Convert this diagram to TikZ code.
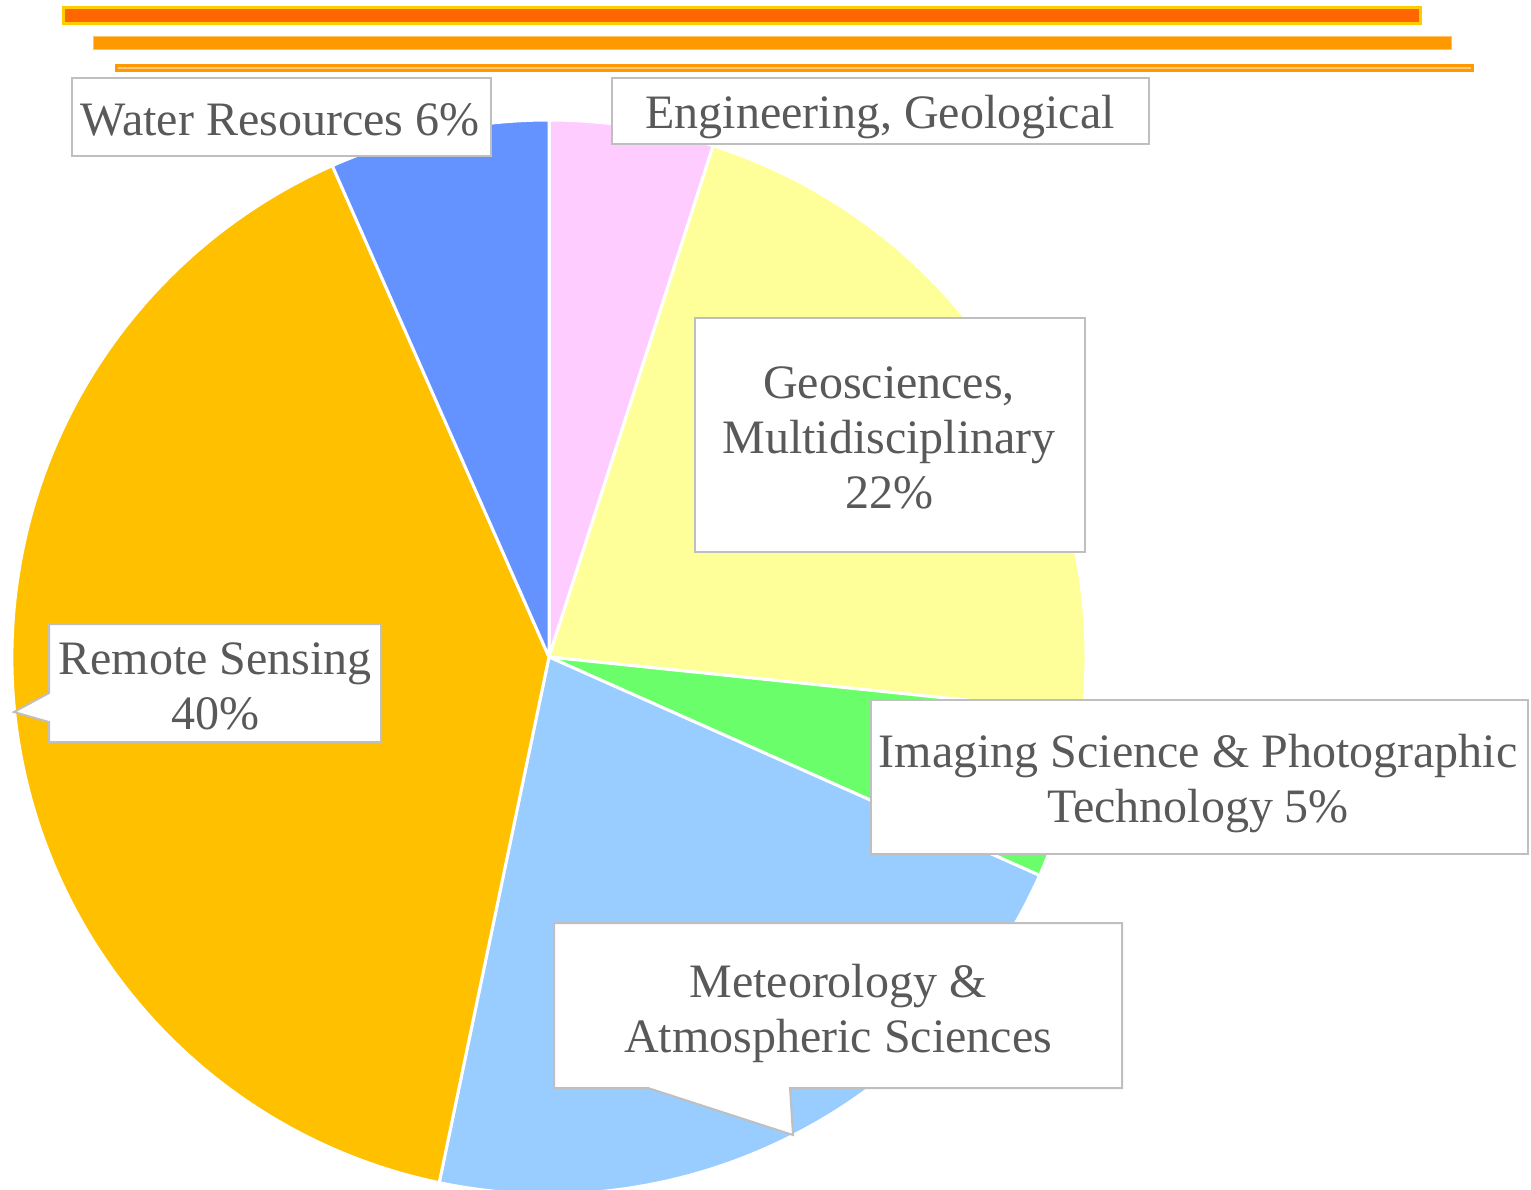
\documentclass[tikz,border=0pt]{standalone}
\usepackage{fontspec}
\setmainfont{Liberation Serif}
\definecolor{pinkc}{HTML}{FFCCFF}
\definecolor{yellowc}{HTML}{FFFF99}
\definecolor{greenc}{HTML}{6AFF6A}
\definecolor{lbluec}{HTML}{99CCFF}
\definecolor{orangec}{HTML}{FFC000}
\definecolor{bluec}{HTML}{6492FF}
\definecolor{txtc}{HTML}{595959}
\definecolor{boxc}{HTML}{BFBFBF}
\definecolor{barA}{HTML}{FF6600}
\definecolor{barAedge}{HTML}{FFCC00}
\definecolor{barB}{HTML}{FF9900}
\definecolor{barC}{HTML}{FFC880}
\tikzset{
  slice/.style={draw=white, line width=3pt, line join=round},
  lblbox/.style={fill=white, draw=boxc, line width=2pt},
  lbl/.style={text=txtc, font=\fontsize{48}{55}\selectfont, align=center, inner sep=0pt}
}
\begin{document}
\begin{tikzpicture}[x=1pt,y=1pt,yscale=-1]
\useasboundingbox (0,0) rectangle (1531,1189);
% top bars
\fill[barA, draw=barAedge, line width=3pt] (63,7.5) rectangle (1420,23);
\fill[barB, draw=barB!60!white, line width=0.8pt] (93,36) rectangle (1451,49);
\fill[barB] (115,64) rectangle (1474,72);
\draw[barC, line width=1.8pt] (118,68) -- (1471,68);
% pie
\coordinate (O) at (549,657);
\fill[pinkc, slice] (O) -- ++(-90:537) arc[start angle=-90, end angle=-72.2, radius=537pt] -- cycle;
\fill[yellowc, slice] (O) -- ++(-72.2:537) arc[start angle=-72.2, end angle=5.9, radius=537pt] -- cycle;
\fill[greenc, slice] (O) -- ++(5.9:537) arc[start angle=5.9, end angle=24, radius=537pt] -- cycle;
\fill[lbluec, slice] (O) -- ++(24:537) arc[start angle=24, end angle=101.8, radius=537pt] -- cycle;
\fill[orangec, slice] (O) -- ++(101.8:537) arc[start angle=101.8, end angle=246.2, radius=537pt] -- cycle;
\fill[bluec, slice] (O) -- ++(246.2:537) arc[start angle=246.2, end angle=270, radius=537pt] -- cycle;
% label boxes
\draw[lblbox] (72,78) rectangle (491,156);
\draw[lblbox] (612,78) rectangle (1149,144);
\draw[lblbox] (695,318) rectangle (1085,552);
\draw[lblbox] (871,700) rectangle (1528,854);
\draw[lblbox] (49,624) -- (381,624) -- (381,742) -- (49,742) -- (49,722) -- (14,712) -- (49,693) -- cycle;
\draw[lblbox] (554,923) -- (1122,923) -- (1122,1088) -- (790,1088) -- (793,1135) -- (648,1088) -- (554,1088) -- cycle;
% labels (base anchor = baseline of last line)
\node[lbl, anchor=base] (water) at (280,135) {Water Resources 6\%};
\node[lbl, anchor=base] (eng) at (880,128) {Engineering, Geological};
\node[lbl, anchor=base] (geo) at (889,508) {Geosciences,\\Multidisciplinary\\22\%};
\node[lbl, anchor=base] (img) at (1198,822) {Imaging Science \& Photographic\\Technology 5\%};
\node[lbl, anchor=base] (rs) at (215,729) {Remote Sensing\\40\%};
\node[lbl, anchor=base] (met) at (838,1052) {Meteorology \&\\Atmospheric Sciences};
\end{tikzpicture}
\end{document}
